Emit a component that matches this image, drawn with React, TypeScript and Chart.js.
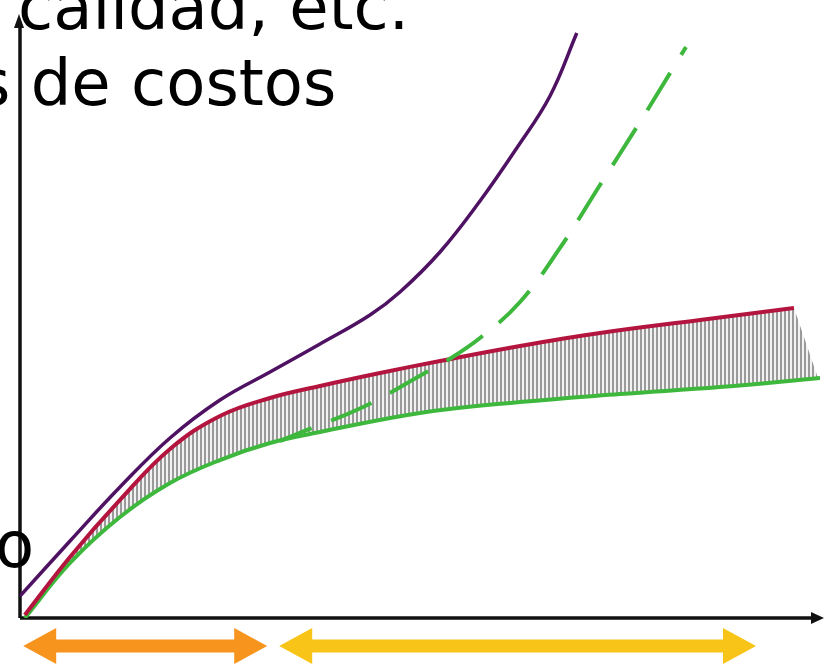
import React, { useEffect, useRef } from "react";
import { Chart, registerables } from "chart.js";

Chart.register(...registerables);

// Horizontal quantity (0-100) and cost level (0-100)
const greenX = [0.6, 6.25, 12.5, 18.75, 25, 31.25, 37.5, 50, 62.5, 75, 87.5, 100];
const greenY = [0, 9.17, 16.83, 22.5, 26.33, 29.17, 31, 34.17, 36, 37.33, 38.5, 40];

const redX = [0.6, 6.25, 12.5, 18.75, 25, 31.25, 37.5, 45, 52.5, 62.5, 72.5, 85, 96.75];
const redY = [0.5, 10.17, 19.67, 28.17, 33.67, 36.67, 38.67, 40.83, 42.83, 45.33, 47.5, 49.67, 51.67];

// hatched tail from the end of the red curve down to the green curve
const tailX = [96.75, 99.8];
const tailY = [51.67, 39.8];

const purpleX = [0, 6.25, 12.5, 18.75, 25, 31.25, 37.5, 43.75, 47.5, 52.5, 57.5, 62.1, 66.25, 69.6];
const purpleY = [3.67, 12.83, 21.83, 30, 36.33, 41, 45.67, 50.5, 54.33, 61, 69.5, 78.33, 87, 97.5];

const dashedX = [32.5, 34.6, 42.9, 50.4, 52.9, 57.5, 62.5, 67.5, 72.5, 77.5, 83.25];
const dashedY = [29.5, 30.67, 35.17, 40.67, 42.5, 46.67, 52.67, 61.67, 72.17, 82.67, 95.17];

// phase ranges shown by the double arrows under the axis
const phase1 = [0.4, 30.9];
const phase2 = [32.4, 92];
const phaseLevel = -4.67;

const textLines = ["calidad, etc.", "s de costos", "o"];

const zip = (xs: number[], ys: number[]) => xs.map((x, i) => ({ x, y: ys[i] }));

function makePattern(): CanvasPattern | string {
  const c = document.createElement("canvas");
  c.width = 4;
  c.height = 4;
  const g = c.getContext("2d");
  if (!g) return "#bbbbbb";
  g.fillStyle = "#f2f2f2";
  g.fillRect(0, 0, 4, 4);
  g.fillStyle = "#9a9a9a";
  g.fillRect(0, 0, 2, 4);
  const p = g.createPattern(c, "repeat");
  return p || "#bbbbbb";
}

function drawDoubleArrow(ctx: CanvasRenderingContext2D, x1: number, x2: number, y: number, color: string) {
  const shaft = 13;
  const headH = 36;
  const headL = 33;
  ctx.save();
  ctx.fillStyle = color;
  ctx.beginPath();
  ctx.moveTo(x1, y);
  ctx.lineTo(x1 + headL, y - headH / 2);
  ctx.lineTo(x1 + headL, y - shaft / 2);
  ctx.lineTo(x2 - headL, y - shaft / 2);
  ctx.lineTo(x2 - headL, y - headH / 2);
  ctx.lineTo(x2, y);
  ctx.lineTo(x2 - headL, y + headH / 2);
  ctx.lineTo(x2 - headL, y + shaft / 2);
  ctx.lineTo(x1 + headL, y + shaft / 2);
  ctx.lineTo(x1 + headL, y + headH / 2);
  ctx.closePath();
  ctx.fill();
  ctx.restore();
}

const decorPlugin = {
  id: "decor",
  beforeDatasetsDraw(chart: any) {
    const { ctx, chartArea } = chart;
    const { left, bottom, top, right } = chartArea;
    ctx.save();
    ctx.strokeStyle = "#111";
    ctx.fillStyle = "#111";
    ctx.lineWidth = 3.5;
    ctx.beginPath();
    ctx.moveTo(left, bottom);
    ctx.lineTo(left, top + 4);
    ctx.moveTo(left, bottom);
    ctx.lineTo(right - 6, bottom);
    ctx.stroke();
    // y arrow head
    ctx.beginPath();
    ctx.moveTo(left - 1, top - 4);
    ctx.lineTo(left - 6, top + 10);
    ctx.lineTo(left + 4, top + 10);
    ctx.closePath();
    ctx.fill();
    // x arrow head
    ctx.beginPath();
    ctx.moveTo(right + 4, bottom);
    ctx.lineTo(right - 9, bottom - 6);
    ctx.lineTo(right - 9, bottom + 6);
    ctx.closePath();
    ctx.fill();
    ctx.restore();
  },
  afterDraw(chart: any) {
    const { ctx, scales } = chart;
    const xs = scales.x;
    const ys = scales.y;
    const yArrow = ys.getPixelForValue(phaseLevel);
    drawDoubleArrow(ctx, xs.getPixelForValue(phase1[0]), xs.getPixelForValue(phase1[1]), yArrow, "#f7941e");
    drawDoubleArrow(ctx, xs.getPixelForValue(phase2[0]), xs.getPixelForValue(phase2[1]), yArrow, "#f9c418");
    ctx.save();
    ctx.fillStyle = "#000";
    ctx.font = "64px 'DejaVu Sans'";
    ctx.textBaseline = "alphabetic";
    ctx.textAlign = "left";
    ctx.fillText(textLines[0], 18, 29);
    ctx.fillText(textLines[1], -23, 105);
    ctx.fillText(textLines[2], -5, 567);
    ctx.restore();
  },
};

export default function App() {
  const ref = useRef<HTMLCanvasElement | null>(null);
  useEffect(() => {
    if (!ref.current) return;
    const pattern = makePattern();
    const common = { pointRadius: 0, fill: false, tension: 0.4 };
    const chart = new Chart(ref.current, {
      type: "line",
      data: {
        datasets: [
          { ...common, label: "green", data: zip(greenX, greenY), borderColor: "#3db83d", borderWidth: 4, order: 3 },
          {
            ...common,
            label: "red",
            data: zip(redX, redY),
            borderColor: "#b3153f",
            borderWidth: 4,
            backgroundColor: pattern as any,
            fill: 0,
            order: 2,
          },
          {
            ...common,
            tension: 0,
            label: "tail",
            data: zip(tailX, tailY),
            borderWidth: 0,
            borderColor: "rgba(0,0,0,0)",
            backgroundColor: pattern as any,
            fill: 0,
            order: 9,
          },
          { ...common, label: "purple", data: zip(purpleX, purpleY), borderColor: "#4f1263", borderWidth: 3.5, order: 1 },
          {
            ...common,
            label: "dashed",
            data: zip(dashedX, dashedY),
            borderColor: "#3db83d",
            borderWidth: 4,
            borderDash: [44, 21],
            borderDashOffset: 10,
            order: 0,
          },
        ],
      },
      options: {
        animation: false,
        responsive: false,
        layout: { padding: { left: 20, right: 5, top: 18, bottom: 47 } },
        scales: {
          x: { type: "linear", min: 0, max: 100, display: false },
          y: { type: "linear", min: 0, max: 100, display: false },
        },
        plugins: {
          legend: { display: false },
          tooltip: { enabled: false },
          filler: { drawTime: "beforeDatasetsDraw" },
        } as any,
      },
      plugins: [decorPlugin],
    });
    return () => chart.destroy();
  }, []);
  return (
    <div style={{ position: "absolute", left: 0, top: 0, width: 825, height: 665, background: "#fff" }}>
      <canvas ref={ref} width={825} height={665} style={{ display: "block" }} />
    </div>
  );
}
